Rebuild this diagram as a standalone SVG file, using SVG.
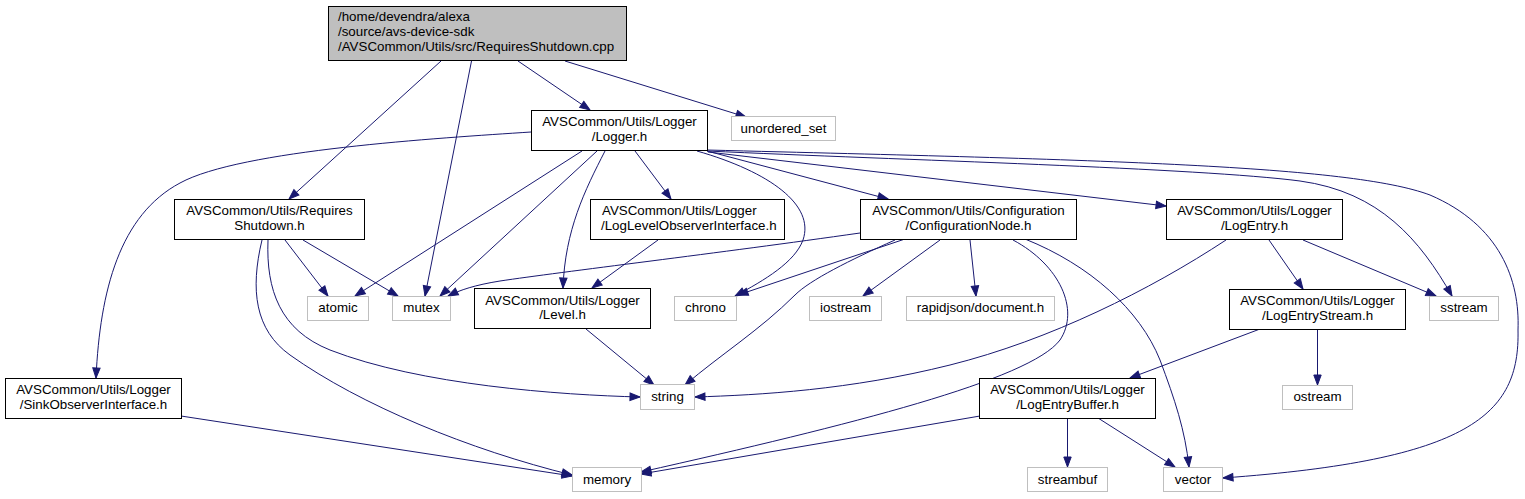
<svg xmlns="http://www.w3.org/2000/svg" width="1525" height="499" viewBox="0 0 1525 499">
<defs>
<marker id="ah" markerWidth="10" markerHeight="8" refX="10" refY="4" orient="auto" markerUnits="userSpaceOnUse" overflow="visible">
<path d="M0,0.3 L10,4 L0,7.7 z" fill="#191970" stroke="#191970" stroke-width="1"/>
</marker>
</defs>
<style>
text{font-family:"Liberation Sans",Arial,Helvetica,sans-serif;font-size:13.33px;fill:#000}
.c{text-anchor:middle}
.s{text-anchor:start}
.doc{fill:#fff;stroke:#000;stroke-width:1}
.ext{fill:#fff;stroke:#bfbfbf;stroke-width:1}
.root{fill:#bfbfbf;stroke:#000;stroke-width:1}
#edges path{fill:none;stroke:#191970;stroke-width:1;marker-end:url(#ah)}
</style>
<rect width="1525" height="499" fill="#fff"/>
<g id="edges">
<path d="M441,61 L289,199"/>
<path d="M471.5,61 L425,296"/>
<path d="M518,61 L590,110"/>
<path d="M565,61 L746,117"/>
<path d="M531,132 C440,138 240,150 180,183 C120,215 100,290 96,378"/>
<path d="M582,151 L355,296"/>
<path d="M597,151 L440,296"/>
<path d="M605,151 C585,190 565,230 563,288"/>
<path d="M635,151 L671,199"/>
<path d="M697,151 C770,172 815,205 803,240 C795,262 765,280 735,296"/>
<path d="M707,151 L888,199"/>
<path d="M708,152 L1166,206"/>
<path d="M707,151 C900,160 1200,168 1300,181 C1380,192 1420,240 1452,296"/>
<path d="M707,150 C1100,160 1350,165 1430,195 C1500,225 1520,280 1518,330 C1520,415 1470,460 1223,478"/>
<path d="M285,240 L328,296"/>
<path d="M303,240 L398,296"/>
<path d="M268,240 C266,290 280,330 330,350 C420,385 560,395 640,397"/>
<path d="M262,240 C250,290 255,330 290,355 C360,405 470,450 572,475"/>
<path d="M181,416 L572,476"/>
<path d="M658,240 L592,288"/>
<path d="M586,329 L654,385"/>
<path d="M860,233 C720,253 560,272 500,281 C475,285 460,290 448,296"/>
<path d="M905,239 L738,295"/>
<path d="M895,240 C850,260 810,280 795,295 C760,330 720,355 685,385"/>
<path d="M940,240 L863,296"/>
<path d="M970,240 L976,296"/>
<path d="M1013,240 C1060,265 1080,310 1060,340 C1030,380 850,425 641,472"/>
<path d="M1025,239 C1090,265 1140,310 1160,360 C1175,400 1185,430 1189,467"/>
<path d="M1226,240 C1150,290 1050,340 950,365 C850,390 760,395 695,397"/>
<path d="M1269,240 L1303,289"/>
<path d="M1303,240 L1436,296"/>
<path d="M1260,329 L1130,378"/>
<path d="M1317.5,329 L1317.5,385"/>
<path d="M980,416 L641,474"/>
<path d="M1067.5,418 L1067.5,467"/>
<path d="M1098,418 L1175,467"/>
</g>
<g id="n0"><rect class="root" x="328.5" y="6.5" width="298" height="54"/>
<text class="s" x="338" y="21">/home/devendra/alexa</text>
<text class="s" x="338" y="36">/source/avs-device-sdk</text>
<text class="s" x="338" y="51">/AVSCommon/Utils/src/RequiresShutdown.cpp</text></g>
<g id="n1"><rect class="doc" x="531.5" y="110.5" width="176" height="40"/>
<text class="c" x="619.5" y="126">AVSCommon/Utils/Logger</text>
<text class="c" x="619.5" y="141">/Logger.h</text></g>
<g id="n2"><rect class="ext" x="731.5" y="116.5" width="104" height="24"/>
<text class="c" x="783.5" y="132.5">unordered_set</text></g>
<g id="n3"><rect class="doc" x="174.5" y="199.5" width="190" height="40"/>
<text class="c" x="269.5" y="215">AVSCommon/Utils/Requires</text>
<text class="c" x="269.5" y="230">Shutdown.h</text></g>
<g id="n4"><rect class="doc" x="590.5" y="199.5" width="194" height="40"/>
<text class="s" x="602" y="215">AVSCommon/Utils/Logger</text>
<text class="s" x="601" y="230">/LogLevelObserverInterface.h</text></g>
<g id="n5"><rect class="doc" x="860.5" y="199.5" width="216" height="40"/>
<text class="c" x="968.5" y="215">AVSCommon/Utils/Configuration</text>
<text class="c" x="968.5" y="230">/ConfigurationNode.h</text></g>
<g id="n6"><rect class="doc" x="1166.5" y="199.5" width="176" height="40"/>
<text class="c" x="1254.5" y="215">AVSCommon/Utils/Logger</text>
<text class="c" x="1254.5" y="230">/LogEntry.h</text></g>
<g id="n7"><rect class="ext" x="307.5" y="296.5" width="61" height="24"/>
<text class="c" x="338" y="312">atomic</text></g>
<g id="n8"><rect class="ext" x="392.5" y="296.5" width="58" height="24"/>
<text class="c" x="421.5" y="312">mutex</text></g>
<g id="n9"><rect class="doc" x="474.5" y="288.5" width="176" height="40"/>
<text class="c" x="562.5" y="304.5">AVSCommon/Utils/Logger</text>
<text class="c" x="562.5" y="319">/Level.h</text></g>
<g id="n10"><rect class="ext" x="674.5" y="296.5" width="62" height="24"/>
<text class="c" x="705.5" y="312">chrono</text></g>
<g id="n11"><rect class="ext" x="809.5" y="296.5" width="72" height="24"/>
<text class="c" x="845.5" y="312">iostream</text></g>
<g id="n12"><rect class="ext" x="906.5" y="296.5" width="148" height="24"/>
<text class="c" x="980.5" y="312">rapidjson/document.h</text></g>
<g id="n13"><rect class="doc" x="1229.5" y="289.5" width="176" height="40"/>
<text class="c" x="1317.5" y="305">AVSCommon/Utils/Logger</text>
<text class="c" x="1317.5" y="319.5">/LogEntryStream.h</text></g>
<g id="n14"><rect class="ext" x="1429.5" y="296.5" width="69" height="24"/>
<text class="c" x="1464" y="312">sstream</text></g>
<g id="n15"><rect class="doc" x="5.5" y="378.5" width="176" height="40"/>
<text class="c" x="93.5" y="394">AVSCommon/Utils/Logger</text>
<text class="c" x="93.5" y="409">/SinkObserverInterface.h</text></g>
<g id="n16"><rect class="ext" x="640.5" y="384.5" width="54" height="25"/>
<text class="c" x="667.5" y="401">string</text></g>
<g id="n17"><rect class="doc" x="979.5" y="378.5" width="176" height="40"/>
<text class="c" x="1067.5" y="394">AVSCommon/Utils/Logger</text>
<text class="c" x="1067.5" y="409">/LogEntryBuffer.h</text></g>
<g id="n18"><rect class="ext" x="1282.5" y="385.5" width="70" height="24"/>
<text class="c" x="1317.5" y="401">ostream</text></g>
<g id="n19"><rect class="ext" x="572.5" y="467.5" width="69" height="24"/>
<text class="c" x="607" y="484">memory</text></g>
<g id="n20"><rect class="ext" x="1027.5" y="467.5" width="80" height="24"/>
<text class="c" x="1067.5" y="484">streambuf</text></g>
<g id="n21"><rect class="ext" x="1163.5" y="467.5" width="59" height="24"/>
<text class="c" x="1193" y="484">vector</text></g>
</svg>
